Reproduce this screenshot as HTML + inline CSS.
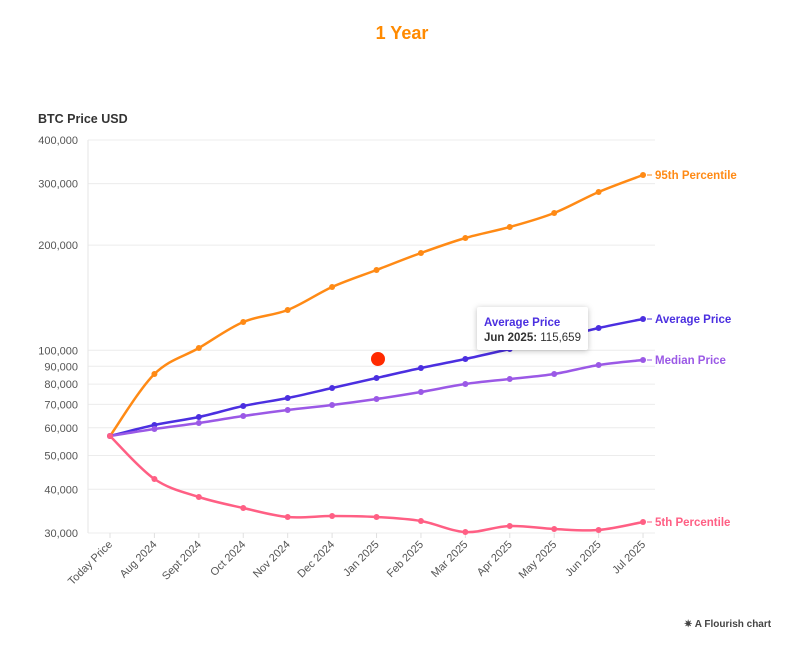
<!DOCTYPE html>
<html><head><meta charset="utf-8"><style>
body{margin:0;background:#fff;width:794px;height:652px;overflow:hidden;font-family:"Liberation Sans",sans-serif}
</style></head><body>
<svg id="s" width="794" height="652" xmlns="http://www.w3.org/2000/svg" font-family="Liberation Sans, sans-serif">
<text x="402" y="39" text-anchor="middle" font-size="18" font-weight="bold" fill="#ff8a00">1 Year</text>
<text x="38" y="123" font-size="12.5" font-weight="bold" fill="#333">BTC Price USD</text>
<g id="grid" stroke="#ececec" stroke-width="1"></g>
<line x1="88" y1="140" x2="88" y2="533" stroke="#e6e6e6"/>
<g id="yl" font-size="11" fill="#555" text-anchor="end"></g>
<g id="xl" font-size="11" fill="#555"></g>
<g id="series"></g>
<circle cx="378" cy="359" r="7" fill="#ff2a00"/>
<g>
<rect x="477" y="307" width="111" height="43" fill="#fff" rx="2" style="filter:drop-shadow(0 1px 3px rgba(0,0,0,0.25))"/>
<text x="484" y="326" font-size="11.5" font-weight="bold" fill="#4b2fe0">Average Price</text>
<text x="484" y="341" font-size="11.5" fill="#333"><tspan font-weight="bold">Jun 2025:</tspan> 115,659</text>
</g>
<text x="684" y="627" font-size="10" font-weight="bold" fill="#444">✷ A Flourish chart</text>
</svg>
<script>
const NS="http://www.w3.org/2000/svg";
function el(t,a,p){const e=document.createElementNS(NS,t);for(const k in a)e.setAttribute(k,a[k]);p.appendChild(e);return e;}
const Y=v=>140+(5.60206-Math.log10(v))*349.3;
const ticks=[400000,300000,200000,100000,90000,80000,70000,60000,50000,40000,30000];
const g=document.getElementById('grid'),yl=document.getElementById('yl');
ticks.forEach(t=>{const y=Y(t);el('line',{x1:88,x2:655,y1:y,y2:y},g);const tx=el('text',{x:78,y:y+4},yl);tx.textContent=t.toLocaleString('en-US');});
const X=i=>110+i*44.42;
const lab=["Today Price","Aug 2024","Sept 2024","Oct 2024","Nov 2024","Dec 2024","Jan 2025","Feb 2025","Mar 2025","Apr 2025","May 2025","Jun 2025","Jul 2025"];
const xl=document.getElementById('xl');
lab.forEach((l,i)=>{el('line',{x1:X(i),x2:X(i),y1:533,y2:538,stroke:"#e0e0e0"},xl);const t=el('text',{x:X(i)+3,y:545,'text-anchor':'end',transform:`rotate(-45 ${X(i)+3} 545)`},xl);t.textContent=l;});
const S=[
["#ff8a15","95th Percentile",[436,374,348,322,310,287,270,253,238,227,213,192,175]],
["#4b2fe0","Average Price",[436,425,417,406,398,388,378,368,359,349,339,328,319]],
["#9b59e6","Median Price",[436,429,423,416,410,405,399,392,384,379,374,365,360]],
["#ff5f84","5th Percentile",[436,479,497,508,517,516,517,521,532,526,529,530,522]]];
const sg=document.getElementById('series');
S.forEach(([c,n,ys])=>{
 const p=ys.map((y,i)=>[X(i),y]);let d=`M${p[0][0]},${p[0][1]}`;
 for(let i=0;i<p.length-1;i++){const p0=p[i-1]||p[i],p1=p[i],p2=p[i+1],p3=p[i+2]||p2;
  const c1=[p1[0]+(p2[0]-p0[0])/6,p1[1]+(p2[1]-p0[1])/6],c2=[p2[0]-(p3[0]-p1[0])/6,p2[1]-(p3[1]-p1[1])/6];
  d+=`C${c1[0]},${c1[1]} ${c2[0]},${c2[1]} ${p2[0]},${p2[1]}`;}
 el('path',{d,fill:'none',stroke:c,'stroke-width':2.5},sg);
 p.forEach(q=>el('circle',{cx:q[0],cy:q[1],r:3,fill:c},sg));
 const ly=ys[12];el('line',{x1:647,x2:652,y1:ly,y2:ly,stroke:c},sg);
 const t=el('text',{x:655,y:ly+4,'font-size':11.5,'font-weight':'bold',fill:c},sg);t.textContent=n;
});
</script>
</body></html>
